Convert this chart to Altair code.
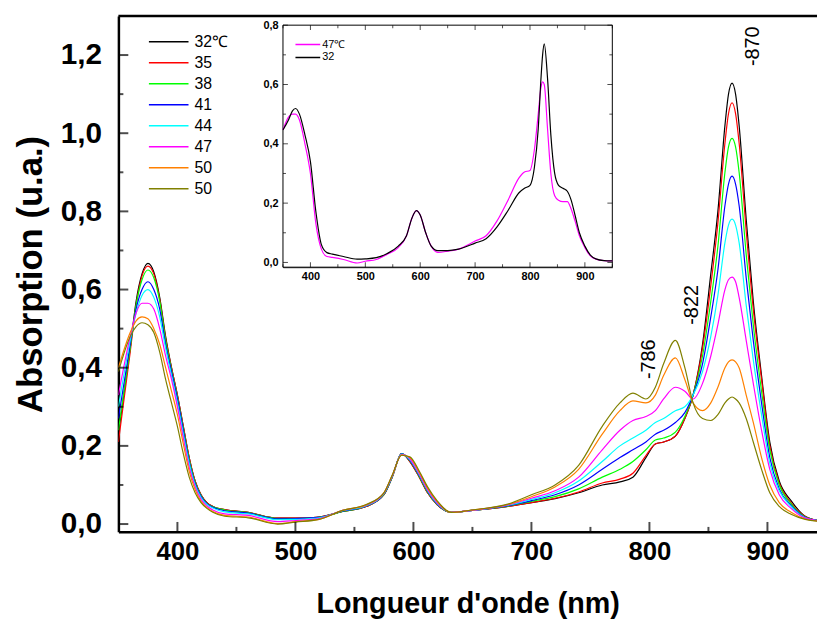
import altair as alt
import pandas as pd

FONT = "Liberation Sans, Arial, sans-serif"
FONT_B = "Liberation Sans, Arial, sans-serif"

# ---------------- main spectra ----------------
wavelength = [350, 360, 365, 370, 375, 380, 385, 390, 395, 400, 405, 410, 415, 420, 425, 430, 440,
              460, 485, 500, 520, 540, 560, 575, 582, 590, 597, 605, 612, 620, 632, 650, 680,
              700, 720, 740, 760, 775, 786, 797, 805, 812, 822, 830, 837, 845, 852, 858, 864,
              867, 870, 873, 876, 882, 888, 895, 902, 910, 920, 932, 945]

series_labels = ["32℃", "35", "38", "41", "44", "47", "50", "50 "]
series_colors = ["#000000", "#ff0000", "#00ff00", "#0000ff", "#00ffff", "#ff00ff", "#ff8000", "#808000"]

abs_32 = [.23, .45, .57, .64, .667, .645, .58, .48, .40, .33, .25, .17, .11, .075, .055, .045, .037,
          .03, .015, .015, .018, .032, .045, .075, .12, .18, .16, .12, .08, .05, .03, .035, .045,
          .055, .065, .08, .10, .108, .12, .17, .205, .21, .225, .27, .33, .46, .64, .80, 1.02,
          1.10, 1.128, 1.10, 1.02, .78, .57, .38, .21, .11, .06, .02, .008]
abs_35 = [.21, .44, .56, .635, .66, .64, .575, .475, .40, .33, .25, .17, .11, .075, .055, .045, .037,
          .03, .015, .015, .018, .032, .045, .075, .12, .18, .16, .12, .08, .05, .03, .035, .045,
          .055, .066, .082, .105, .115, .13, .175, .205, .21, .225, .27, .33, .45, .61, .77, .975,
          1.05, 1.078, 1.05, .975, .75, .55, .37, .20, .105, .055, .019, .008]
abs_38 = [.24, .45, .56, .625, .65, .63, .57, .47, .395, .325, .245, .165, .107, .073, .053, .044, .036,
          .029, .014, .014, .017, .032, .046, .076, .12, .18, .162, .122, .082, .051, .03, .035, .046,
          .058, .07, .09, .12, .14, .16, .19, .215, .22, .235, .275, .33, .43, .57, .71, .90,
          .965, .987, .965, .90, .69, .51, .34, .19, .10, .052, .018, .008]
abs_41 = [.27, .46, .55, .60, .62, .60, .55, .46, .39, .32, .24, .16, .104, .071, .052, .043, .034,
          .028, .013, .014, .017, .033, .046, .077, .121, .18, .163, .124, .084, .052, .03, .035, .047,
          .06, .075, .10, .14, .17, .19, .21, .23, .24, .26, .285, .33, .41, .53, .65, .815,
          .87, .89, .87, .815, .63, .47, .31, .17, .09, .048, .017, .008]
abs_44 = [.30, .47, .54, .585, .60, .58, .53, .45, .38, .31, .23, .155, .10, .068, .05, .041, .031,
          .026, .011, .012, .016, .034, .047, .078, .122, .179, .165, .126, .086, .053, .03, .035, .048,
          .063, .08, .11, .16, .20, .22, .24, .26, .27, .29, .30, .33, .39, .48, .585, .72,
          .765, .78, .765, .72, .56, .42, .28, .155, .085, .045, .016, .008]
abs_47 = [.33, .48, .54, .565, .565, .55, .50, .43, .37, .30, .22, .145, .095, .063, .046, .036, .026,
          .022, .006, .009, .014, .035, .048, .079, .123, .178, .167, .128, .088, .055, .03, .035, .049,
          .066, .085, .12, .19, .24, .265, .275, .29, .32, .35, .34, .32, .36, .43, .51, .60,
          .625, .632, .62, .58, .47, .36, .24, .14, .075, .04, .015, .008]
abs_50a = [.40, .49, .52, .53, .525, .50, .46, .40, .34, .28, .205, .135, .088, .058, .042, .032, .022,
           .018, .001, .006, .012, .035, .049, .08, .124, .177, .17, .132, .092, .058, .03, .036, .05,
           .07, .095, .14, .23, .29, .315, .31, .33, .38, .425, .37, .31, .29, .31, .35, .40,
           .415, .42, .415, .40, .33, .26, .17, .10, .055, .03, .013, .007]
abs_50b = [.39, .48, .505, .515, .51, .49, .44, .37, .31, .25, .18, .12, .08, .055, .04, .03, .02,
           .016, .0, .005, .012, .035, .05, .08, .125, .176, .172, .135, .095, .06, .03, .036, .051,
           .075, .10, .15, .25, .31, .335, .32, .35, .41, .47, .40, .31, .27, .265, .28, .31,
           .32, .325, .32, .31, .27, .21, .14, .08, .045, .025, .012, .007]
series_values = [abs_32, abs_35, abs_38, abs_41, abs_44, abs_47, abs_50a, abs_50b]

x_domain = [350, 942]
y_domain = [-0.02, 1.3]
x_major_ticks = [400, 500, 600, 700, 800, 900]
x_minor_ticks = [450, 550, 650, 750, 850]
y_major_ticks = [0.0, 0.2, 0.4, 0.6, 0.8, 1.0, 1.2]
y_minor_ticks = [0.1, 0.3, 0.5, 0.7, 0.9, 1.1]

annotation_text = ["-870", "-822", "-786"]
annotation_wl = [888, 836.5, 800]
annotation_abs = [1.172, 0.51, 0.371]

# ---------------- inset spectra ----------------
inset_wavelength = [350, 360, 367, 373, 380, 390, 400, 410, 420, 430, 440, 460, 485, 500, 520, 540,
                    560, 575, 585, 593, 600, 610, 620, 632, 650, 670, 700, 720, 740, 760, 780, 790,
                    800, 808, 815, 820, 823, 826, 832, 838, 845, 852, 860, 868, 875, 882, 890, 900,
                    910, 920, 935, 950]
inset_labels = ["47℃", "32"]
inset_colors = ["#ff00ff", "#000000"]
inset_abs_47 = [.447, .49, .50, .50, .48, .40, .30, .13, .045, .02, .017, .01, -.002, .004, .01, .028,
                .05, .09, .15, .175, .16, .10, .055, .034, .038, .045, .072, .09, .14, .21, .285, .305,
                .31, .38, .50, .59, .609, .60, .45, .30, .225, .21, .205, .205, .18, .14, .09, .05,
                .022, .011, .006, .005]
inset_abs_32 = [.447, .48, .51, .519, .50, .43, .34, .17, .06, .033, .028, .02, .011, .012, .016, .03,
                .055, .09, .15, .175, .16, .10, .055, .04, .04, .045, .065, .08, .12, .175, .235, .25,
                .26, .32, .45, .62, .70, .737, .62, .43, .30, .26, .25, .24, .21, .16, .10, .055,
                .025, .012, .006, .005]
inset_values = [inset_abs_47, inset_abs_32]

inset_x_domain = [350, 950]
inset_y_domain = [-0.016, 0.8]
inset_x_major = [400, 500, 600, 700, 800, 900]
inset_x_minor = [350, 450, 550, 650, 750, 850, 950]
inset_y_major = [0.0, 0.2, 0.4, 0.6, 0.8]
inset_y_minor = [0.1, 0.3, 0.5, 0.7]

# ---------------- layout ----------------
W, H = 705.5, 521
INSET_X_RANGE = [166.2, 498.8]
INSET_Y_RANGE = [253.7, 9.3]
COMMA = "replace(format(datum.value, '.1f'), '.', ',')"

rows = []
for name, vals in zip(series_labels, series_values):
    assert len(vals) == len(wavelength), name
    for w, a in zip(wavelength, vals):
        rows.append({"wl": w, "A": a, "serie": name})
df_main = pd.DataFrame(rows)

irows = []
for name, vals in zip(inset_labels, inset_values):
    assert len(vals) == len(inset_wavelength), name
    for w, a in zip(inset_wavelength, vals):
        irows.append({"iwl": w, "iA": a, "iserie": name})
df_inset = pd.DataFrame(irows)

xs = alt.Scale(domain=x_domain, nice=False, zero=False)
ys = alt.Scale(domain=y_domain, nice=False, zero=False)
ixs = alt.Scale(domain=inset_x_domain, nice=False, zero=False, range=INSET_X_RANGE)
iys = alt.Scale(domain=inset_y_domain, nice=False, zero=False, range=INSET_Y_RANGE)

x_axis = alt.Axis(values=x_major_ticks, format="d", ticks=False, grid=False,
                  domainColor="black", domainWidth=2.5, labelFont=FONT_B, labelFontSize=26,
                  labelFontWeight="bold", labelColor="black", labelPadding=7, labelFlush=False,
                  labelOverlap=False, title="Longueur d'onde (nm)", titleFont=FONT_B,
                  titleFontSize=29, titleFontWeight="bold", titleColor="black", titleY=81,
                  titleBaseline="alphabetic")
y_axis = alt.Axis(values=y_major_ticks, labelExpr=COMMA, ticks=False, grid=False,
                  domainColor="black", domainWidth=2.5, labelFont=FONT_B, labelFontSize=30,
                  labelFontWeight="bold", labelColor="black", labelPadding=17, labelOverlap=False,
                  title="Absorption (u.a.)", titleFont=FONT_B, titleFontSize=35,
                  titleFontWeight="bold", titleColor="black", titleX=-78, titleAngle=270,
                  titleBaseline="alphabetic")

main_legend = alt.Legend(orient="none", legendX=29.8, legendY=15.5, title=None,
                         symbolType="stroke", symbolSize=1600, symbolStrokeWidth=1.5,
                         clipHeight=21, rowPadding=0.2, padding=0, labelFont=FONT,
                         labelFontSize=16, labelColor="black", labelOffset=5)

main_lines = alt.Chart(df_main).mark_line(interpolate="monotone", strokeWidth=1.2, clip=True).encode(
    x=alt.X("wl:Q", scale=xs, axis=x_axis),
    y=alt.Y("A:Q", scale=ys, axis=y_axis),
    color=alt.Color("serie:N", scale=alt.Scale(domain=series_labels, range=series_colors),
                    legend=main_legend),
)


def xticks(vals, field, scale, at, length, width, sign):
    return alt.Chart(pd.DataFrame({field: vals})).mark_tick(
        orient="vertical", size=length, thickness=width, color="black", yOffset=sign * length / 2
    ).encode(x=alt.X(f"{field}:Q", scale=scale), y=alt.datum(at))


def yticks(vals, field, scale, at, length, width, sign):
    return alt.Chart(pd.DataFrame({field: vals})).mark_tick(
        orient="horizontal", size=length, thickness=width, color="black", xOffset=sign * length / 2
    ).encode(y=alt.Y(f"{field}:Q", scale=scale), x=alt.datum(at))


main_ticks = [
    xticks(x_major_ticks, "wl", xs, y_domain[0], 10, 2, -1),
    xticks(x_minor_ticks, "wl", xs, y_domain[0], 5, 2, -1),
    yticks(y_major_ticks, "A", ys, x_domain[0], 10, 2, 1),
    yticks(y_minor_ticks, "A", ys, x_domain[0], 5, 2, 1),
]

top_frame = alt.Chart(pd.DataFrame({"wl": [x_domain[0]], "wl_end": [x_domain[1]], "A": [y_domain[1]]})).mark_rule(
    strokeWidth=2.5, color="black").encode(x=alt.X("wl:Q", scale=xs), x2="wl_end:Q", y=alt.Y("A:Q", scale=ys))

annotations = alt.Chart(pd.DataFrame({"wl": annotation_wl, "A": annotation_abs, "t": annotation_text})).mark_text(
    angle=270, align="left", baseline="middle", font=FONT, fontSize=20, color="black"
).encode(x=alt.X("wl:Q", scale=xs), y=alt.Y("A:Q", scale=ys), text="t:N")

main = alt.layer(main_lines, *main_ticks, top_frame, annotations)

# ---------------- inset ----------------
inset_x_axis = alt.Axis(values=inset_x_major, format="d", ticks=False, grid=False, orient="bottom",
                        offset=INSET_Y_RANGE[0] - H, domainColor="black", domainWidth=1,
                        labelFont=FONT, labelFontSize=11, labelFontWeight="bold", labelColor="black",
                        labelPadding=3, labelFlush=False, labelOverlap=False, title=None)
inset_y_axis = alt.Axis(values=inset_y_major, labelExpr=COMMA, ticks=False, grid=False, orient="left",
                        offset=-INSET_X_RANGE[0], domainColor="black", domainWidth=1,
                        labelFont=FONT, labelFontSize=11, labelFontWeight="bold", labelColor="black",
                        labelPadding=5, labelOverlap=False, title=None)
inset_legend = alt.Legend(orient="none", legendX=177.8, legendY=22.7, title=None,
                          symbolType="stroke", symbolSize=625, symbolStrokeWidth=1.5,
                          clipHeight=12.3, rowPadding=0, padding=0, labelFont=FONT,
                          labelFontSize=11, labelColor="black", labelOffset=1)

inset_frame = alt.Chart(pd.DataFrame({"iwl": [inset_x_domain[0]], "iwl_end": [inset_x_domain[1]],
                                      "iA": [inset_y_domain[0]], "iA_end": [inset_y_domain[1]]})).mark_rect(
    fill="white", stroke="black", strokeWidth=1
).encode(x=alt.X("iwl:Q", scale=ixs, axis=inset_x_axis), x2="iwl_end:Q",
         y=alt.Y("iA:Q", scale=iys, axis=inset_y_axis), y2="iA_end:Q")

inset_lines = alt.Chart(df_inset).mark_line(interpolate="monotone", strokeWidth=1.2, clip=True).encode(
    x=alt.X("iwl:Q", scale=ixs, axis=inset_x_axis),
    y=alt.Y("iA:Q", scale=iys, axis=inset_y_axis),
    color=alt.Color("iserie:N", scale=alt.Scale(domain=inset_labels, range=inset_colors),
                    legend=inset_legend),
)

inset_ticks = [
    xticks(inset_x_major, "iwl", ixs, inset_y_domain[0], 5, 1, -1),
    xticks(inset_x_minor, "iwl", ixs, inset_y_domain[0], 3, 1, -1),
    xticks(inset_x_major, "iwl", ixs, inset_y_domain[1], 5, 1, 1),
    xticks(inset_x_minor, "iwl", ixs, inset_y_domain[1], 3, 1, 1),
    yticks(inset_y_major, "iA", iys, inset_x_domain[0], 5, 1, 1),
    yticks(inset_y_minor, "iA", iys, inset_x_domain[0], 3, 1, 1),
    yticks(inset_y_major, "iA", iys, inset_x_domain[1], 5, 1, -1),
    yticks(inset_y_minor, "iA", iys, inset_x_domain[1], 3, 1, -1),
]

inset = alt.layer(inset_frame, inset_lines, *inset_ticks)

chart = alt.layer(main, inset).resolve_scale(
    x="independent", y="independent", color="independent"
).properties(
    width=W, height=H,
    autosize=alt.AutoSizeParams(type="none"),
    padding={"left": 111.5, "top": 5, "right": 0, "bottom": 89},
).configure_view(stroke=None)

chart.save("out.html", embed_options={"renderer": "svg", "actions": False})
